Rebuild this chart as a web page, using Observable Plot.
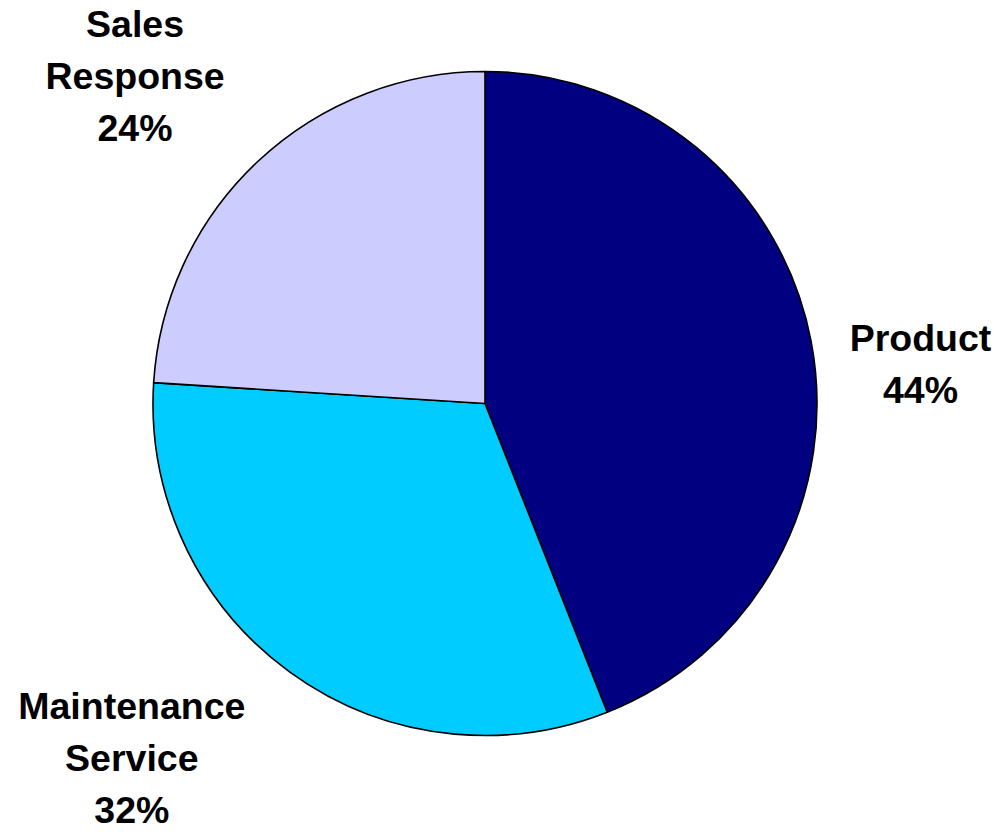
<!DOCTYPE html>
<html>
<head>
<meta charset="utf-8">
<script src="https://cdn.jsdelivr.net/npm/d3@7"></script>
<script src="https://cdn.jsdelivr.net/npm/@observablehq/plot@0.6"></script>
<style>
  html, body { margin: 0; padding: 0; background: #fff; }
  #chart svg { display: block; }
</style>
</head>
<body>
<div id="chart"></div>
<script>
// ---- Data ----
const categories = ["Product", "Maintenance\nService", "Sales\nResponse"];
const shares = [44, 32, 24];
const colors = ["#000080", "#00CCFF", "#CCCCFF"];

// ---- Layout ----
const W = 1000, H = 832;
const center = {x: 485, y: 403.5};
const radius = 332;
const labelRadiusFactor = 1.3;
const labelNudge = [[11, -9.5], [-100, -71], [-55, -89.5]];

const pie = d3.pie().sort(null).value(d => d.value)(
  categories.map((c, i) => ({name: c, value: shares[i], color: colors[i]}))
);

const labels = pie.map((s, i) => {
  const mid = (s.startAngle + s.endAngle) / 2;
  const rl = radius * labelRadiusFactor;
  return {
    x: center.x + rl * Math.sin(mid) + labelNudge[i][0],
    y: center.y - rl * Math.cos(mid) + labelNudge[i][1],
    text: `${s.data.name}\n${s.data.value}%`
  };
});

function pieMark(index, scales) {
  const sx = scales.x, sy = scales.y;
  const cx = sx(center.x), cy = sy(center.y);
  const r = Math.abs(sx(center.x + radius) - cx);
  const arc = d3.arc().innerRadius(0).outerRadius(r);
  const g = d3.create("svg:g").attr("transform", `translate(${cx},${cy})`);
  g.selectAll("path")
    .data(pie)
    .join("path")
    .attr("d", arc)
    .attr("fill", d => d.data.color)
    .attr("stroke", "#000")
    .attr("stroke-width", 1.6)
    .attr("stroke-linejoin", "round");
  return g.node();
}

const chart = Plot.plot({
  width: W,
  height: H,
  margin: 0,
  x: {domain: [0, W], range: [0, W], axis: null},
  y: {domain: [0, H], range: [0, H], axis: null},
  style: {background: "#fff", fontFamily: "'Liberation Sans', Arial, sans-serif"},
  marks: [
    pieMark,
    Plot.text(labels, {
      x: "x",
      y: "y",
      text: "text",
      lineAnchor: "top",
      lineHeight: 1.39,
      textAnchor: "middle",
      fontSize: 37.5,
      fontWeight: "bold",
      fill: "#000"
    })
  ]
});
document.getElementById("chart").appendChild(chart);
</script>
</body>
</html>
